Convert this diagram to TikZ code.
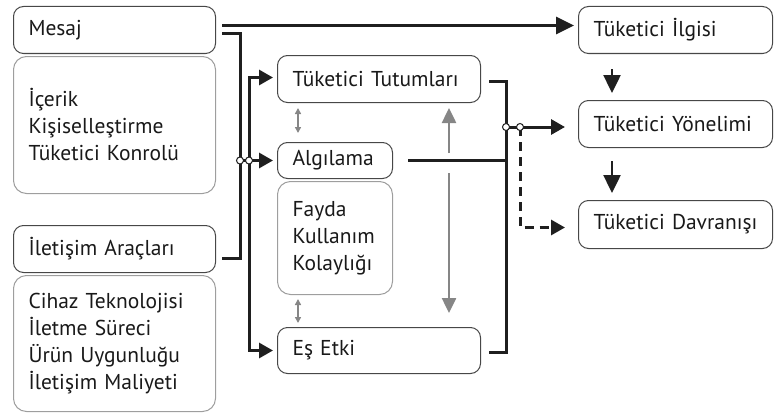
\documentclass[tikz,border=0pt]{standalone}
\usepackage{fontspec}
\setmainfont{PT Sans}
\usetikzlibrary{positioning,calc,arrows.meta}
\colorlet{colorBox}{black!72}
\colorlet{colorSub}{black!38}
\colorlet{colorLine}{black!88}
\colorlet{colorGri}{gray!95}
\tikzset{
   every path/.style={>={Triangle[length=14pt,width=15pt]}},
   kutu/.style={draw=colorBox,line width=1pt,rounded corners=10pt,anchor=north west,
      inner xsep=15pt,inner ysep=0pt,align=left,text=black!90,
      font=\fontsize{21.5}{27}\selectfont,text width=#1},
   altkutu/.style={kutu=#1,draw=colorSub,rounded corners=13pt},
   hat/.style={line width=3pt,color=colorLine},
   ok/.style={->,hat},
   buyukok/.style={->,hat,>={Triangle[length=18pt,width=17pt]}},
   kesik/.style={->,hat,dash pattern=on 9pt off 6pt},
   griok/.style={->,line width=2.5pt,color=colorGri,>={Triangle[length=15pt,width=14pt]}},
   kucukok/.style={<->,line width=1.5pt,color=colorGri,>={Triangle[length=6pt,width=6pt]}},
   dugum/.style={circle,draw=colorLine,fill=white,line width=1pt,inner sep=0pt,minimum size=7pt},
}

\begin{document}
\begin{tikzpicture}[x=1pt,y=-1pt]
      \useasboundingbox (0,0) rectangle (775,412);

      % sol sutun
      \node[kutu=172pt, minimum height=47pt] (mesaj) at (13,6) {Mesaj};
      \node[altkutu=172pt, minimum height=137pt]
        (icerik) [below = 2pt of mesaj.south west, anchor = north west]
        {\.{I}çerik\\Kişiselleştirme\\Tüketici Konrolü};
      \node[kutu=172pt, minimum height=47pt] (iletisim) at (13,225) {\.{I}letişim Araçları};
      \node[altkutu=172pt, minimum height=136pt]
        (cihaz) [below = 2pt of iletisim.south west, anchor = north west]
        {Cihaz Teknolojisi\\\.{I}letme Süreci\\Ürün Uygunluğu\\\.{I}letişim Maliyeti};

      % orta sutun
      \node[kutu=173pt, minimum height=47pt] (tutum) at (277,55) {Tüketici Tutumları};
      \node[kutu=85pt, minimum height=36pt] (algi) at (277,142) {Algılama};
      \node[altkutu=85pt, minimum height=113pt]
        (fayda) [below = 2pt of algi.south west, anchor = north west]
        {Fayda\\Kullanım\\Kolaylığı};
      \node[kutu=173pt, minimum height=46pt] (esetki) at (277,327) {Eş Etki};

      % sag sutun
      \node[kutu=164pt, minimum height=47pt] (ilgi) at (578,6) {Tüketici \.{I}lgisi};
      \node[kutu=164pt, minimum height=47pt] (yonelim) at (578,100) {Tüketici Yönelimi};
      \node[kutu=164pt, minimum height=48pt] (davranis) at (578,200) {Tüketici Davranışı};

      % baglantilar
      \coordinate (b1) at ([xshift=-37pt]algi.west);
      \coordinate (b2) at ([xshift=-28pt]algi.west);
      \coordinate (s1) at ([xshift=25pt,yshift=-3pt]tutum.east |- yonelim.west);
      \coordinate (s2) at ([xshift=14pt]s1);

      \draw[buyukok, shorten <=6pt, shorten >=4pt] ([yshift=4.5pt]mesaj.east) -- ([yshift=4.5pt]ilgi.west);
      \draw[hat, shorten <=6pt, shorten >=6pt] ([yshift=-3.5pt]mesaj.east) -| (b1) |- ([yshift=-9.5pt]iletisim.east);
      \draw[hat] (b1) -- (b2);
      \draw[ok, shorten >=4pt] (b2) |- ([yshift=1.5pt]tutum.west);
      \draw[ok, shorten >=4pt] (b2) -- (algi.west);
      \draw[ok, shorten >=4pt] (b2) |- (esetki.west);

      \draw[hat, shorten <=8pt, shorten >=8pt] ([yshift=-2.5pt]tutum.east) -| (s1) |- ([yshift=-2pt]esetki.east);
      \draw[hat, shorten <=15pt] (algi.east) -- (algi.east -| s1);
      \draw[hat] (s1) -- (s2);
      \draw[ok, shorten >=13pt] (s2) -- (s2 -| yonelim.west);
      \draw[kesik, shorten >=13pt] (s2) |- ([yshift=-3pt]davranis.west);

      \node[dugum] (d1) at (b1) {};
      \node[dugum] (d2) at (b2) {};
      \node[dugum] (d3) at (s1) {};
      \node[dugum] (d4) at (s2) {};

      \draw[buyukok, line width=2.5pt, shorten <=15pt, shorten >=7pt]
        ([xshift=34pt]ilgi.south west) -- ([xshift=34pt]yonelim.north west);
      \draw[buyukok, line width=2.5pt, shorten <=13pt, shorten >=7pt]
        ([xshift=34pt]yonelim.south west) -- ([xshift=34pt]davranis.north west);

      % gri oklar
      \draw[griok, shorten >=5pt] ($ (tutum.south east) + (-32,50) $) -- ([xshift=-32pt]tutum.south east);
      \draw[griok, shorten >=14pt] ($ (tutum.south east) + (-32,70) $) -- ([xshift=-32pt]esetki.north east);
      \draw[kucukok, shorten <=5pt, shorten >=9pt] ([xshift=21pt]tutum.south west) -- ([xshift=21pt]algi.north west);
      \draw[kucukok, shorten <=4pt, shorten >=4pt] ([xshift=21pt]fayda.south west) -- ([xshift=21pt]esetki.north west);
    \end{tikzpicture}
\end{document}
